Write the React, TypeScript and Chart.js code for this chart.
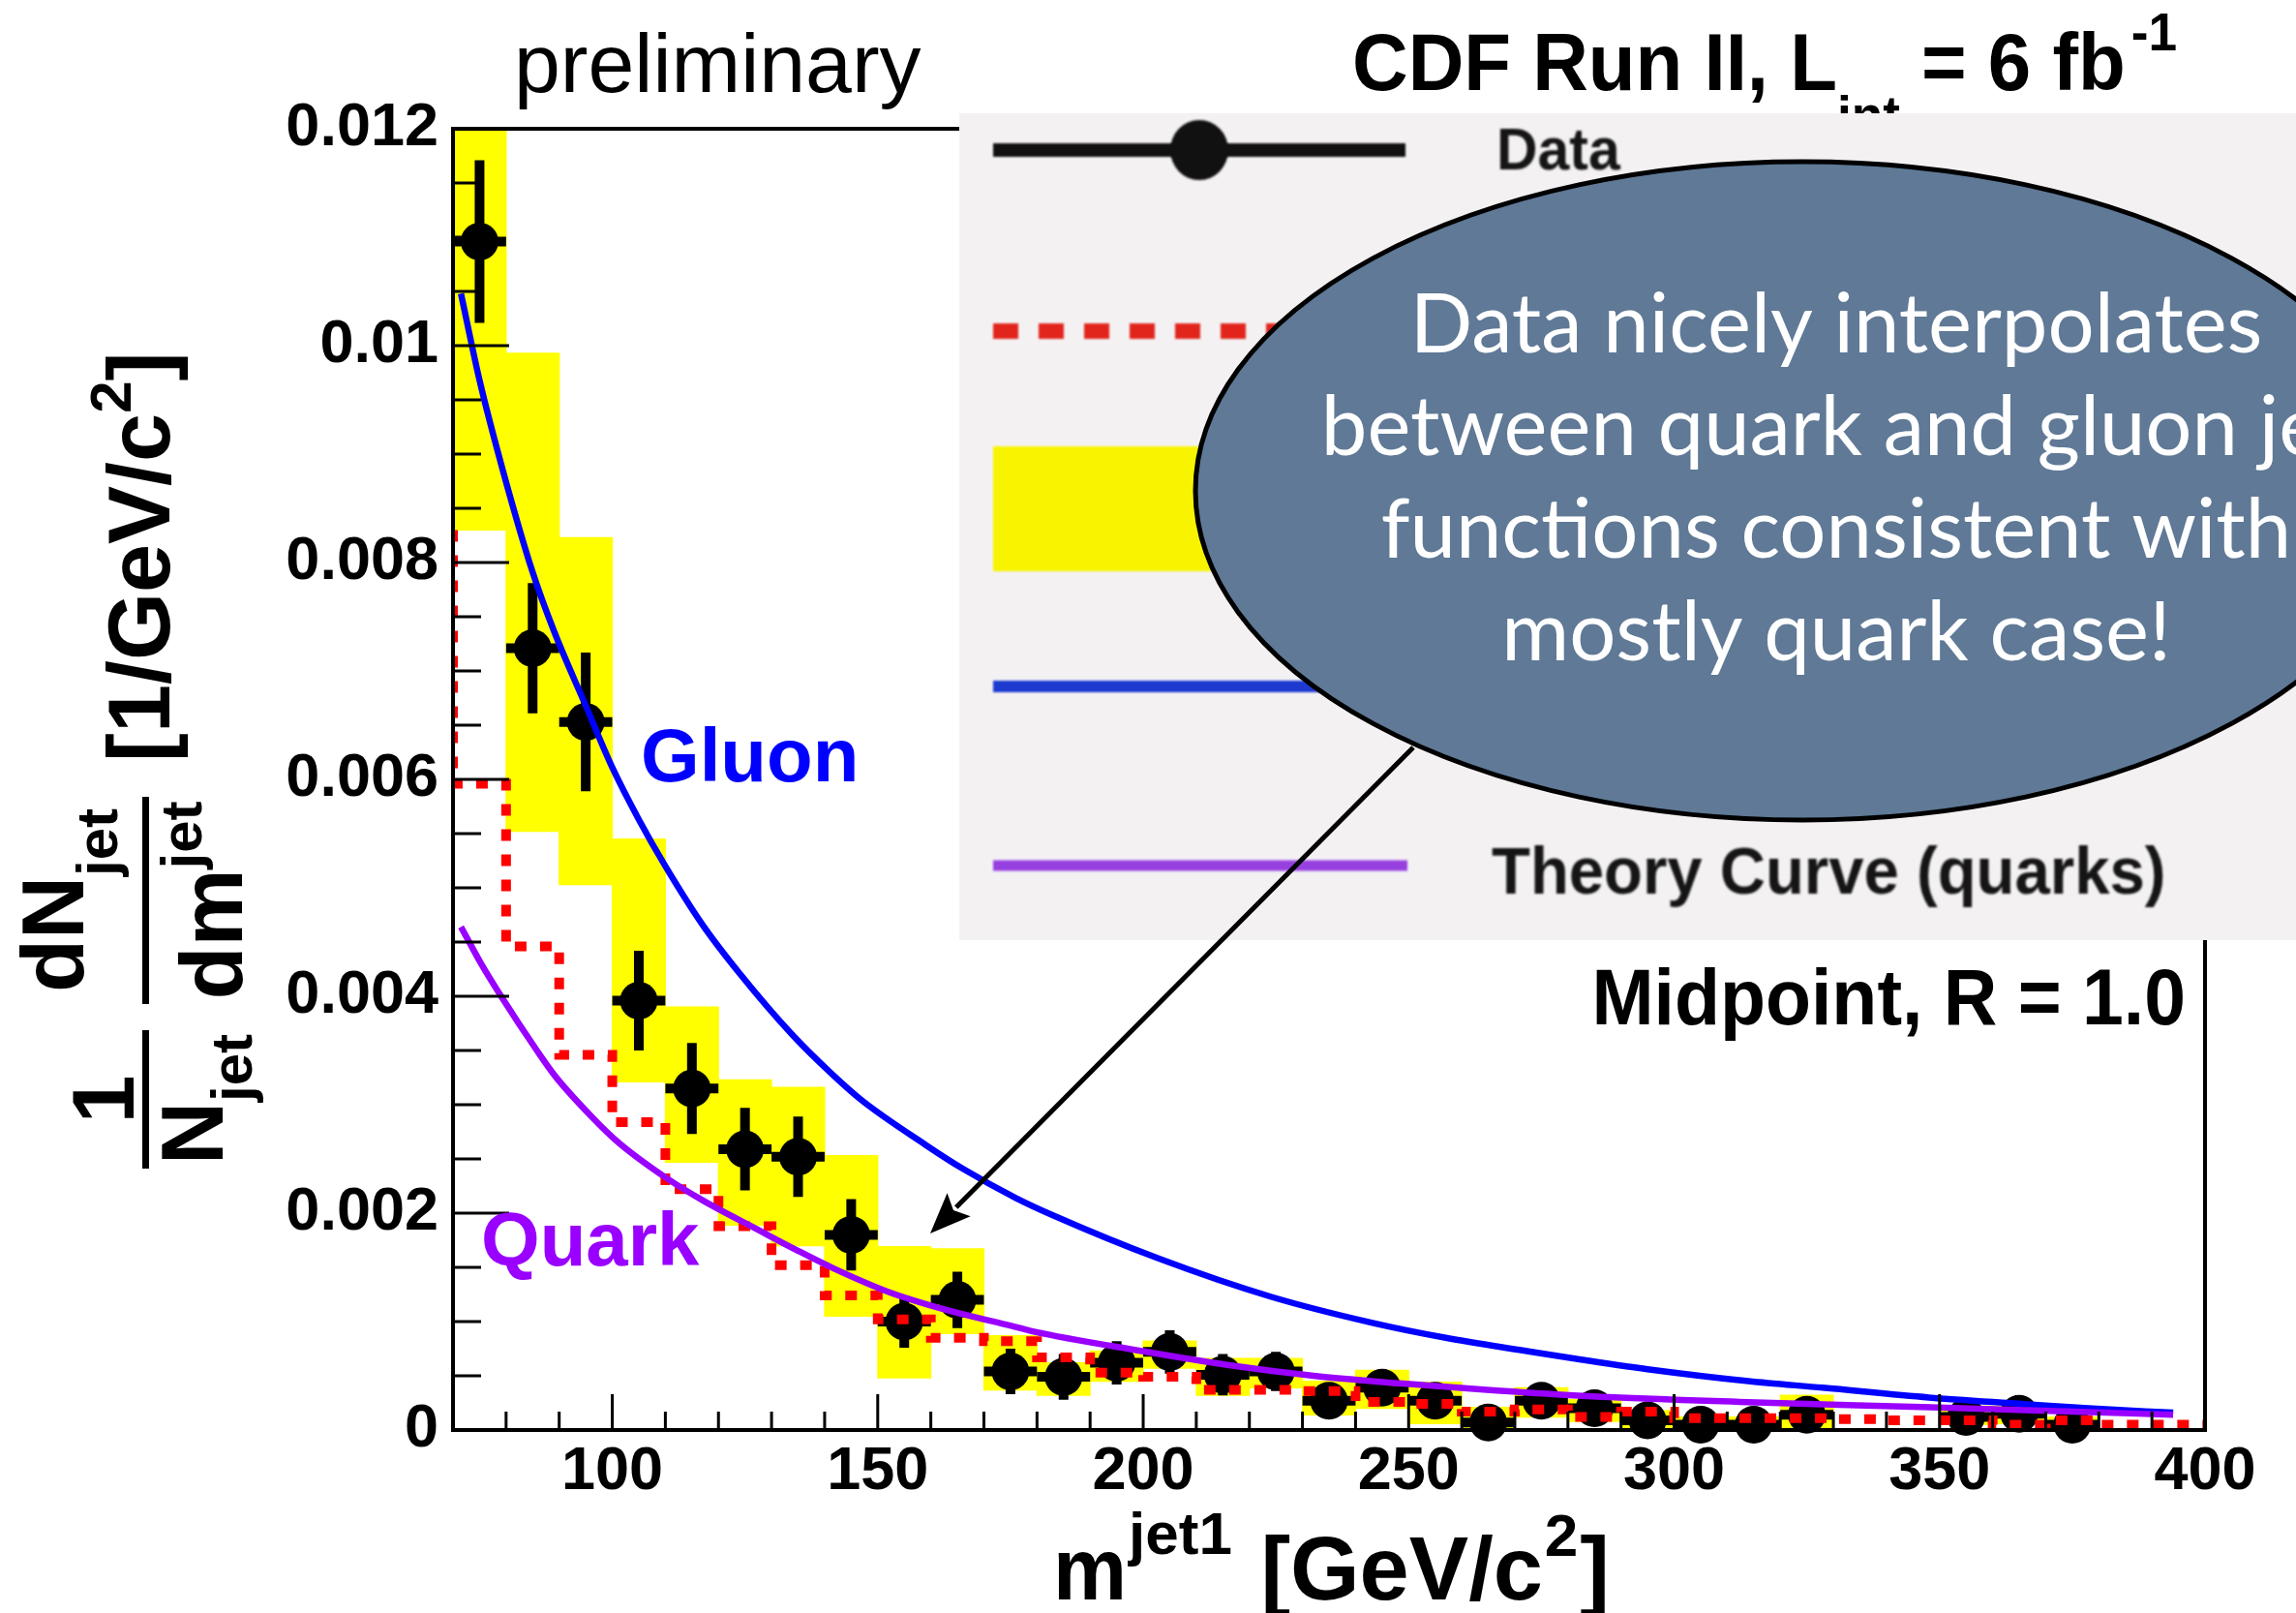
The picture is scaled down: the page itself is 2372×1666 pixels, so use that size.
import React, { useEffect, useRef } from 'react';
import { Chart, registerables } from 'chart.js';

Chart.register(...registerables);

// ---- binned measurement (jet mass, 10 GeV/c^2 bins) ----
const BIN_WIDTH = 10;
const binCenters = [
  75, 85, 95, 105, 115, 125, 135, 145, 155, 165, 175, 185, 195, 205, 215, 225, 235,
  245, 255, 265, 275, 285, 295, 305, 315, 325, 335, 345, 355, 365, 375, 385, 395,
];
const dataValues: (number | null)[] = [
  0.01096, 0.00721, 0.00653, 0.00396, 0.00315, 0.00259, 0.00252, 0.0018, 0.001, 0.0012,
  0.00054, 0.00049, 0.00062, 0.00072, 0.00051, 0.00054, 0.00027, 0.00039, 0.00027, 0.00007,
  0.00027, 0.0002, 0.00009, 0.00005, 0.00005, 0.00014, null, null, 0.00012, 0.00015, 0.00005,
  null, null,
];
const dataErrors: (number | null)[] = [
  0.00075, 0.0006, 0.00064, 0.00046, 0.00042, 0.00038, 0.00037, 0.00033, 0.00024, 0.00026,
  0.00021, 0.00021, 0.0002, 0.0002, 0.00019, 0.00018, 0.00016, 0.00016, 0.00016, 0.00015,
  0.00015, 0.00014, 0.00013, 0.00013, 0.00013, 0.00013, null, null, 0.00012, 0.00012, 0.00012,
  null, null,
];
// systematic uncertainty band (low / high edge per bin)
const bandLow: (number | null)[] = [
  0.0083, 0.00552, 0.00503, 0.00321, 0.00247, 0.00189, 0.0017, 0.00105, 0.00048, 0.00089,
  0.00037, 0.00032, 0.00045, 0.00057, 0.00032, 0.00039, 0.00014, 0.0002, 0.00006, 0.0,
  0.00012, 0.00008, 0.00001, 0.0, 0.0, 0.00002, null, null, 0.00005, 0.00006, 0.0, null, null,
];
const bandHigh: (number | null)[] = [
  0.0137, 0.00993, 0.00823, 0.00545, 0.0039, 0.00323, 0.00316, 0.00253, 0.00169, 0.00167,
  0.00087, 0.00062, 0.00073, 0.00082, 0.00066, 0.00066, 0.00045, 0.00055, 0.00044, 0.00021,
  0.00039, 0.00028, 0.00018, 0.00012, 0.00012, 0.00032, null, null, 0.00022, 0.00022, 0.00012,
  null, null,
];

// ---- Pythia histogram (value of each bin, bins start at 70) ----
const mcLowEdges = [
  70, 80, 90, 100, 110, 120, 130, 140, 150, 160, 170, 180, 190, 200, 210, 220, 230,
  240, 250, 260, 270, 280, 290, 300, 310, 320, 330, 340, 350, 360, 370, 380, 390,
];
const mcValues = [
  0.0083, 0.00596, 0.00446, 0.00346, 0.00284, 0.00222, 0.00188, 0.00152, 0.00124, 0.00102,
  0.00085, 0.00082, 0.00067, 0.00053, 0.00049, 0.00037, 0.00037, 0.00036, 0.00026, 0.00024,
  0.00017, 0.00019, 0.00012, 0.00017, 0.00011, 0.00011, 0.00011, 0.0001, 0.00009, 0.00009,
  0.00005, 0.00009, 0.00005,
];
const mcUpperEdge = 400;

// ---- theory curves ----
const gluonMass = [
  71.5, 75, 79.5, 85, 89, 95, 100, 105, 110, 117, 124, 134, 141, 147, 159, 166, 176, 183,
  203, 224, 243, 257, 272, 281, 295, 314, 328, 348, 366, 378, 394,
];
const gluonValues = [
  0.01048, 0.00968, 0.00883, 0.00791, 0.00737, 0.00668, 0.00611, 0.00563, 0.0052, 0.00466,
  0.00421, 0.00364, 0.0033, 0.00304, 0.00263, 0.00241, 0.00214, 0.00198, 0.00158, 0.00123,
  0.00099, 0.00085, 0.00073, 0.00066, 0.00056, 0.00045, 0.00039, 0.0003, 0.00024, 0.0002,
  0.00016,
];
const quarkMass = [
  71.5, 75.3, 78.8, 85.8, 89.3, 96.3, 101.2, 110.3, 117.3, 127.7, 134.7, 141.7, 152.2, 162.7,
  174.4, 179.2, 199.5, 215.8, 232.1, 248.4, 264.7, 281, 312.3, 348.3, 375.2, 394,
];
const quarkValues = [
  0.00464, 0.0043, 0.00402, 0.0035, 0.00326, 0.00288, 0.00265, 0.00232, 0.00211, 0.00184,
  0.00166, 0.00149, 0.00127, 0.00111, 0.00097, 0.00091, 0.00073, 0.0006, 0.0005, 0.00043,
  0.00037, 0.00032, 0.00026, 0.00021, 0.00017, 0.00014,
];

// ---- axes ----
const X_MIN = 70;
const X_MAX = 400;
const X_MINOR_STEP = 10;
const xLabelledTicks = [100, 150, 200, 250, 300, 350, 400];
const Y_MIN = 0;
const Y_MAX = 0.012;
const Y_MINOR_STEP = 0.0005;
const yLabelledTicks = [0, 0.002, 0.004, 0.006, 0.008, 0.01, 0.012];
const yTickLabels = ['0', '0.002', '0.004', '0.006', '0.008', '0.01', '0.012'];

const bubbleLines = [
  'Data nicely interpolates',
  'between quark and gluon jet',
  'functions consistent with',
  'mostly quark case!',
];

const ROOT_FONT = '"Liberation Sans", Arial, sans-serif';
const BUBBLE_FONT = 'Lato, "Open Sans", sans-serif';
const DATA_INDEX = 1;

const near = (a: number, b: number) => Math.abs(a - b) < 1e-9;

function buildTicks(min: number, max: number, step: number) {
  const out: { value: number }[] = [];
  const n = Math.round((max - min) / step);
  for (let i = 0; i <= n; i++) out.push({ value: +(min + i * step).toFixed(6) });
  return out;
}

function drawText(
  ctx: CanvasRenderingContext2D,
  s: string,
  x: number,
  y: number,
  font: string,
  color: string,
  align: CanvasTextAlign = 'left',
  sx = 1,
) {
  ctx.save();
  ctx.font = font;
  ctx.fillStyle = color;
  ctx.textAlign = align;
  ctx.textBaseline = 'alphabetic';
  ctx.translate(x, y);
  ctx.scale(sx, 1);
  ctx.fillText(s, 0, 0);
  const w = ctx.measureText(s).width * sx;
  ctx.restore();
  return w;
}

// text rotated 90° counter-clockwise, reading upwards from startY, baseline at screen x
function drawUpText(ctx: CanvasRenderingContext2D, s: string, baseX: number, startY: number, font: string) {
  ctx.save();
  ctx.font = font;
  ctx.fillStyle = '#000';
  ctx.textAlign = 'left';
  ctx.textBaseline = 'alphabetic';
  ctx.translate(baseX, startY);
  ctx.rotate(-Math.PI / 2);
  ctx.fillText(s, 0, 0);
  ctx.restore();
}
function measure(ctx: CanvasRenderingContext2D, s: string, font: string) {
  ctx.save();
  ctx.font = font;
  const w = ctx.measureText(s).width;
  ctx.restore();
  return w;
}

const errorBarPlugin = {
  id: 'errorBars',
  beforeDatasetDraw(chart: any, args: any) {
    if (args.index !== DATA_INDEX) return;
    const { ctx, scales } = chart;
    const xs = scales.x;
    const ys = scales.y;
    ctx.save();
    ctx.strokeStyle = '#000';
    ctx.lineWidth = 10;
    ctx.lineCap = 'butt';
    binCenters.forEach((c, i) => {
      const v = dataValues[i];
      const e = dataErrors[i];
      if (v == null || e == null) return;
      const px = xs.getPixelForValue(c);
      const py = ys.getPixelForValue(v);
      ctx.beginPath();
      ctx.moveTo(xs.getPixelForValue(c - BIN_WIDTH / 2), py);
      ctx.lineTo(xs.getPixelForValue(c + BIN_WIDTH / 2), py);
      ctx.moveTo(px, ys.getPixelForValue(v + e));
      ctx.lineTo(px, ys.getPixelForValue(v - e));
      ctx.stroke();
    });
    ctx.restore();
  },
};

const framePlugin = {
  id: 'frame',
  afterDatasetsDraw(chart: any) {
    const { ctx, chartArea, scales } = chart;
    const { left, right, top, bottom } = chartArea;
    ctx.save();
    ctx.strokeStyle = '#000';
    ctx.lineWidth = 3;
    ctx.beginPath();
    for (const t of buildTicks(X_MIN, X_MAX, X_MINOR_STEP)) {
      const px = scales.x.getPixelForValue(t.value);
      const major = xLabelledTicks.some((v) => near(v, t.value));
      ctx.moveTo(px, bottom);
      ctx.lineTo(px, bottom - (major ? 37 : 19));
    }
    for (const t of buildTicks(Y_MIN, Y_MAX, Y_MINOR_STEP)) {
      const py = scales.y.getPixelForValue(t.value);
      const major = yLabelledTicks.some((v) => near(v, t.value));
      ctx.moveTo(left, py);
      ctx.lineTo(left + (major ? 58 : 29), py);
    }
    ctx.stroke();
    ctx.lineWidth = 4;
    ctx.strokeRect(left, top, right - left, bottom - top);
    ctx.restore();
  },
};

const annotationPlugin = {
  id: 'annotations',
  afterDraw(chart: any) {
    const ctx: CanvasRenderingContext2D = chart.ctx;
    const bold = (px: number) => `bold ${px}px ${ROOT_FONT}`;

    // ---- headline texts ----
    drawText(ctx, 'preliminary', 531, 95, `${86}px ${ROOT_FONT}`, '#000');
    let x = 1397;
    x += drawText(ctx, 'CDF Run II, L', x, 93, bold(84), '#000', 'left', 0.95);
    x += drawText(ctx, 'int', x, 138, bold(56), '#000', 'left', 0.95);
    x += drawText(ctx, ' = 6 fb', x, 93, bold(84), '#000', 'left', 0.95);
    drawText(ctx, '-1', x + 6, 52, bold(56), '#000', 'left', 0.95);

    // ---- legend inset ----
    ctx.save();
    ctx.fillStyle = '#f4f1f3';
    ctx.fillRect(991, 117, 2372 - 991, 971 - 117);
    ctx.filter = 'blur(1.3px)';
    ctx.lineCap = 'butt';
    ctx.strokeStyle = '#111';
    ctx.lineWidth = 14;
    ctx.beginPath();
    ctx.moveTo(1026, 155);
    ctx.lineTo(1452, 155);
    ctx.stroke();
    ctx.fillStyle = '#111';
    ctx.beginPath();
    ctx.ellipse(1239, 155, 30, 31, 0, 0, Math.PI * 2);
    ctx.fill();
    drawText(ctx, 'Data', 1546, 175, bold(62), '#151515', 'left', 0.95);
    ctx.strokeStyle = '#e2251c';
    ctx.lineWidth = 16;
    ctx.setLineDash([26, 21]);
    ctx.beginPath();
    ctx.moveTo(1026, 342);
    ctx.lineTo(1452, 342);
    ctx.stroke();
    ctx.setLineDash([]);
    ctx.fillStyle = '#f8f400';
    ctx.fillRect(1026, 461, 426, 129);
    ctx.strokeStyle = '#1d3ad0';
    ctx.lineWidth = 12;
    ctx.beginPath();
    ctx.moveTo(1026, 709);
    ctx.lineTo(1452, 709);
    ctx.stroke();
    ctx.strokeStyle = '#9640df';
    ctx.lineWidth = 11;
    ctx.beginPath();
    ctx.moveTo(1026, 894);
    ctx.lineTo(1454, 894);
    ctx.stroke();
    drawText(ctx, 'Theory Curve (quarks)', 1541, 923, bold(68), '#151515', 'left', 0.96);
    ctx.restore();

    // ---- speech bubble ----
    ctx.save();
    ctx.beginPath();
    ctx.ellipse(1862, 507, 627, 340, 0, 0, Math.PI * 2);
    ctx.fillStyle = '#5f7996';
    ctx.fill();
    ctx.lineWidth = 5;
    ctx.strokeStyle = '#000';
    ctx.stroke();
    ctx.restore();
    const bubbleBaselines = [364, 470, 576, 682];
    bubbleLines.forEach((line, i) => {
      drawText(ctx, line, 1897, bubbleBaselines[i], `${85}px ${BUBBLE_FONT}`, '#fff', 'center');
    });

    // ---- arrow from bubble to the data ----
    const sx0 = 1460, sy0 = 772, tx = 961, ty = 1274;
    const len = Math.hypot(sx0 - tx, sy0 - ty);
    const ux = (sx0 - tx) / len, uy = (sy0 - ty) / len;
    const headLen = 42, headHalf = 17;
    ctx.save();
    ctx.strokeStyle = '#000';
    ctx.lineWidth = 5;
    ctx.beginPath();
    ctx.moveTo(sx0, sy0);
    ctx.lineTo(tx + ux * (headLen - 4), ty + uy * (headLen - 4));
    ctx.stroke();
    ctx.fillStyle = '#000';
    ctx.beginPath();
    ctx.moveTo(tx, ty);
    ctx.lineTo(tx + ux * headLen - uy * headHalf, ty + uy * headLen + ux * headHalf);
    ctx.lineTo(tx + ux * (headLen - 8), ty + uy * (headLen - 8));
    ctx.lineTo(tx + ux * headLen + uy * headHalf, ty + uy * headLen - ux * headHalf);
    ctx.closePath();
    ctx.fill();
    ctx.restore();

    // ---- curve labels & jet algorithm ----
    drawText(ctx, 'Gluon', 662, 807, bold(78), '#0000ff');
    drawText(ctx, 'Quark', 497, 1307, bold(78), '#9900ff');
    drawText(ctx, 'Midpoint, R = 1.0', 2258, 1058, bold(81), '#000', 'right', 0.95);

    // ---- x-axis title ----
    let tx2 = 1088;
    tx2 += drawText(ctx, 'm', tx2, 1652, bold(90), '#000', 'left', 0.95);
    tx2 += drawText(ctx, 'jet1', tx2 + 2, 1605, bold(62), '#000') + 6;
    tx2 += drawText(ctx, ' [GeV/c', tx2, 1652, bold(92), '#000');
    tx2 += drawText(ctx, '2', tx2 + 2, 1607, bold(62), '#000') + 4;
    drawText(ctx, ']', tx2, 1652, bold(92), '#000');

    // ---- y-axis title: 1/N_jet dN_jet/dm^jet [1/GeV/c^2] ----
    const F = bold(90);
    const f = bold(60);
    ctx.save();
    ctx.fillStyle = '#000';
    // first fraction
    const c1 = 1135.5;
    const w1 = measure(ctx, '1', F);
    drawUpText(ctx, '1', 138, c1 + w1 / 2, F);
    ctx.fillRect(147, 1064, 7, 143);
    const wN = measure(ctx, 'N', F);
    const wJ = measure(ctx, 'jet', f);
    let s = c1 + (wN + wJ) / 2;
    drawUpText(ctx, 'N', 230, s, F);
    drawUpText(ctx, 'jet', 260, s - wN, f);
    // second fraction
    const c2 = 930;
    const wdN = measure(ctx, 'dN', F);
    s = c2 + (wdN + wJ) / 2;
    drawUpText(ctx, 'dN', 86, s, F);
    drawUpText(ctx, 'jet', 121, s - wdN, f);
    ctx.fillRect(147, 823, 7, 214);
    const wdm = measure(ctx, 'dm', F);
    s = c2 + (wdm + wJ) / 2;
    drawUpText(ctx, 'dm', 250, s, F);
    drawUpText(ctx, 'jet', 208, s - wdm, f);
    // units
    s = 787;
    drawUpText(ctx, '[1/GeV/c', 175, s, F);
    s -= measure(ctx, '[1/GeV/c', F);
    drawUpText(ctx, '2', 135, s, f);
    s -= measure(ctx, '2', f);
    drawUpText(ctx, ']', 175, s, F);
    ctx.restore();
  },
};

export default function App() {
  const ref = useRef<HTMLCanvasElement>(null);

  useEffect(() => {
    const canvas = ref.current;
    if (!canvas) return;

    const bandPoints = binCenters
      .map((c, i) => (bandLow[i] == null ? null : { x: c, y: [bandLow[i], bandHigh[i]] }))
      .filter((p) => p !== null);
    const dataPoints = binCenters
      .map((c, i) => (dataValues[i] == null ? null : { x: c, y: dataValues[i] }))
      .filter((p) => p !== null);
    const mcPoints = mcLowEdges.map((e, i) => ({ x: e, y: mcValues[i] }));
    mcPoints.push({ x: mcUpperEdge, y: mcValues[mcValues.length - 1] });
    const gluonPoints = gluonMass.map((m, i) => ({ x: m, y: gluonValues[i] }));
    const quarkPoints = quarkMass.map((m, i) => ({ x: m, y: quarkValues[i] }));

    const tickFont = { family: ROOT_FONT, size: 63, weight: 'bold' as const };

    const chart = new Chart(canvas, {
      type: 'scatter',
      data: {
        datasets: [
          {
            type: 'bar',
            label: 'Systematic uncertainty',
            data: bandPoints as any,
            backgroundColor: '#ffff00',
            borderWidth: 0,
            barPercentage: 1,
            categoryPercentage: 1,
            inflateAmount: 0.6,
            clip: 0,
            order: 5,
          } as any,
          {
            type: 'scatter',
            label: 'Data',
            data: dataPoints as any,
            pointRadius: 19.5,
            pointBackgroundColor: '#000',
            pointBorderWidth: 0,
            pointBorderColor: '#000',
            clip: false,
            order: 4,
          } as any,
          {
            type: 'line',
            label: 'Pythia',
            data: mcPoints,
            stepped: 'after',
            borderColor: '#ff0000',
            borderWidth: 10,
            borderDash: [12, 14],
            borderCapStyle: 'butt',
            pointRadius: 0,
            fill: false,
            order: 3,
          } as any,
          {
            type: 'line',
            label: 'Gluon',
            data: gluonPoints,
            borderColor: '#0000ff',
            borderWidth: 6.5,
            pointRadius: 0,
            cubicInterpolationMode: 'monotone',
            fill: false,
            order: 2,
          } as any,
          {
            type: 'line',
            label: 'Quark',
            data: quarkPoints,
            borderColor: '#9900ff',
            borderWidth: 6.5,
            pointRadius: 0,
            cubicInterpolationMode: 'monotone',
            fill: false,
            order: 1,
          } as any,
        ],
      },
      options: {
        animation: false,
        responsive: false,
        devicePixelRatio: 1,
        events: [],
        layout: { padding: { left: 0, top: 133, right: 94, bottom: 0 } },
        plugins: { legend: { display: false }, tooltip: { enabled: false } },
        scales: {
          x: {
            type: 'linear',
            min: X_MIN,
            max: X_MAX,
            offset: false,
            grid: { display: false, drawTicks: false, offset: false },
            border: { display: false },
            afterBuildTicks: (scale: any) => {
              scale.ticks = buildTicks(X_MIN, X_MAX, X_MINOR_STEP);
            },
            afterFit: (scale: any) => {
              scale.height = 189;
            },
            ticks: {
              autoSkip: false,
              maxRotation: 0,
              minRotation: 0,
              padding: 6,
              color: '#000',
              font: tickFont,
              callback: (value: any) => {
                const i = xLabelledTicks.findIndex((v) => near(v, Number(value)));
                return i >= 0 ? String(xLabelledTicks[i]) : '';
              },
            },
          },
          y: {
            type: 'linear',
            min: Y_MIN,
            max: Y_MAX,
            grid: { display: false, drawTicks: false },
            border: { display: false },
            afterBuildTicks: (scale: any) => {
              scale.ticks = buildTicks(Y_MIN, Y_MAX, Y_MINOR_STEP);
            },
            afterFit: (scale: any) => {
              scale.width = 468;
            },
            ticks: {
              autoSkip: false,
              padding: 15,
              color: '#000',
              font: tickFont,
              callback: (value: any) => {
                const i = yLabelledTicks.findIndex((v) => near(v, Number(value)));
                return i >= 0 ? yTickLabels[i] : '';
              },
            },
          },
        },
      } as any,
      plugins: [errorBarPlugin, framePlugin, annotationPlugin],
    });

    return () => chart.destroy();
  }, []);

  return (
    <canvas
      ref={ref}
      width={2372}
      height={1666}
      style={{ position: 'absolute', left: 0, top: 0, width: '2372px', height: '1666px' }}
    />
  );
}
